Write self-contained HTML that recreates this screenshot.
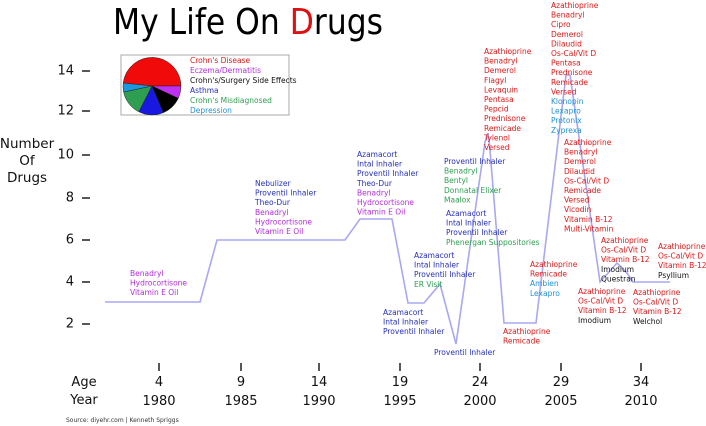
<!DOCTYPE html>
<html><head><meta charset="utf-8"><style>
html,body{margin:0;padding:0;background:#fff}
svg{display:block}
text{font-family:"DejaVu Sans","Liberation Sans",sans-serif}
.s{font-size:7.5px;dominant-baseline:middle}
.R{fill:#e01818}.P{fill:#b02ee0}.B{fill:#2530c0}.G{fill:#2e9e50}.C{fill:#2090d8}.K{fill:#111}
</style></head><body>
<svg width="706" height="426" viewBox="0 0 706 426" xmlns="http://www.w3.org/2000/svg">
<text x="113" y="34" font-size="36" textLength="270" lengthAdjust="spacingAndGlyphs" fill="#000">My Life On <tspan fill="#e01010">D</tspan>rugs</text>
<g font-size="13.5" fill="#111" text-anchor="middle">
<text x="27" y="148">Number</text><text x="27" y="165">Of</text><text x="27" y="182">Drugs</text>
</g>
<g font-size="13" fill="#111" text-anchor="end" style="dominant-baseline:middle">
<text x="74" y="71">14</text><text x="74" y="111">12</text><text x="74" y="155">10</text><text x="74" y="198">8</text><text x="74" y="240">6</text><text x="74" y="282">4</text><text x="74" y="324">2</text>
</g>
<g stroke="#111" stroke-width="1.4">
<line x1="82" x2="90" y1="71" y2="71"/><line x1="82" x2="90" y1="111" y2="111"/><line x1="82" x2="90" y1="155" y2="155"/><line x1="82" x2="90" y1="198" y2="198"/><line x1="82" x2="90" y1="240" y2="240"/><line x1="82" x2="90" y1="282" y2="282"/><line x1="82" x2="90" y1="324" y2="324"/>
<line x1="159" x2="159" y1="363" y2="371"/><line x1="241" x2="241" y1="363" y2="371"/><line x1="319" x2="319" y1="363" y2="371"/><line x1="400" x2="400" y1="363" y2="371"/><line x1="480" x2="480" y1="363" y2="371"/><line x1="561" x2="561" y1="363" y2="371"/><line x1="641" x2="641" y1="363" y2="371"/>
</g>
<g font-size="13" fill="#111" text-anchor="middle">
<text x="84" y="386">Age</text><text x="84" y="404">Year</text>
<text x="159" y="386">4</text><text x="241" y="386">9</text><text x="319" y="386">14</text><text x="400" y="386">19</text><text x="480" y="386">24</text><text x="561" y="386">29</text><text x="641" y="386">34</text>
<text x="159" y="405">1980</text><text x="241" y="405">1985</text><text x="319" y="405">1990</text><text x="400" y="405">1995</text><text x="480" y="405">2000</text><text x="561" y="405">2005</text><text x="641" y="405">2010</text>
</g>
<text x="66" y="422" font-size="6" fill="#333">Source: diyehr.com | Kenneth Spriggs</text>
<rect x="121" y="55" width="168" height="60" fill="#fff" stroke="#aaa" stroke-width="1"/>
<g stroke="#222" stroke-width="0.5">
<path d="M152,86 L123.2,83 A29,29 0 0 1 181,86 Z" fill="#f00a0a"/>
<path d="M152,86 L181,86 A29,29 0 0 1 178.3,98.3 Z" fill="#c030f0"/>
<path d="M152,86 L178.3,98.3 A29,29 0 0 1 163.3,112.7 Z" fill="#000"/>
<path d="M152,86 L163.3,112.7 A29,29 0 0 1 138.8,111.8 Z" fill="#1818e0"/>
<path d="M152,86 L138.8,111.8 A29,29 0 0 1 123.6,92 Z" fill="#2e9e50"/>
<path d="M152,86 L123.6,92 A29,29 0 0 1 123.2,83 Z" fill="#1a98e0"/>
</g>
<text x="190" y="61" class="s R">Crohn's Disease</text>
<text x="190" y="71" class="s P">Eczema/Dermatitis</text>
<text x="190" y="81" class="s K">Crohn's/Surgery Side Effects</text>
<text x="190" y="91" class="s B">Asthma</text>
<text x="190" y="101" class="s G">Crohn's Misdiagnosed</text>
<text x="190" y="111" class="s C">Depression</text>
<polyline fill="none" stroke="#a8a8f4" stroke-width="1.6" points="105,302 200,302 217,240 345,240 360,219 392,219 408,303 424,303 440,284 456,344 485,142 488,133 490,150 504,323 536,323 566,75 570,75 600,282 617,263 627,273 633,282 670,282"/>

<text x="130" y="274" class="s P">Benadryl</text>
<text x="130" y="283.6" class="s P">Hydrocortisone</text>
<text x="130" y="293.2" class="s P">Vitamin E Oil</text>

<text x="255" y="184" class="s B">Nebulizer</text>
<text x="255" y="193.6" class="s B">Proventil Inhaler</text>
<text x="255" y="203.2" class="s B">Theo-Dur</text>
<text x="255" y="212.8" class="s P">Benadryl</text>
<text x="255" y="222.4" class="s P">Hydrocortisone</text>
<text x="255" y="232" class="s P">Vitamin E Oil</text>

<text x="357" y="155" class="s B">Azamacort</text>
<text x="357" y="164.6" class="s B">Intal Inhaler</text>
<text x="357" y="174.2" class="s B">Proventil Inhaler</text>
<text x="357" y="183.8" class="s B">Theo-Dur</text>
<text x="357" y="193.4" class="s P">Benadryl</text>
<text x="357" y="203" class="s P">Hydrocortisone</text>
<text x="357" y="212.6" class="s P">Vitamin E Oil</text>

<text x="383" y="313" class="s B">Azamacort</text>
<text x="383" y="322.6" class="s B">Intal Inhaler</text>
<text x="383" y="332.2" class="s B">Proventil Inhaler</text>

<text x="414" y="256" class="s B">Azamacort</text>
<text x="414" y="265.6" class="s B">Intal Inhaler</text>
<text x="414" y="275.2" class="s B">Proventil Inhaler</text>
<text x="414" y="284.8" class="s G">ER Visit</text>

<text x="434" y="353" class="s B">Proventil Inhaler</text>

<text x="446" y="214" class="s B">Azamacort</text>
<text x="446" y="223.6" class="s B">Intal Inhaler</text>
<text x="446" y="233.2" class="s B">Proventil Inhaler</text>
<text x="446" y="242.8" class="s G">Phenergan Suppositories</text>

<text x="444" y="162" class="s B">Proventil Inhaler</text>
<text x="444" y="171.6" class="s G">Benadryl</text>
<text x="444" y="181.2" class="s G">Bentyl</text>
<text x="444" y="190.8" class="s G">Donnatal Elixer</text>
<text x="444" y="200.4" class="s G">Maalox</text>

<text x="484" y="52" class="s R">Azathioprine</text>
<text x="484" y="61.6" class="s R">Benadryl</text>
<text x="484" y="71.2" class="s R">Demerol</text>
<text x="484" y="80.8" class="s R">Flagyl</text>
<text x="484" y="90.4" class="s R">Levaquin</text>
<text x="484" y="100" class="s R">Pentasa</text>
<text x="484" y="109.6" class="s R">Pepcid</text>
<text x="484" y="119.2" class="s R">Prednisone</text>
<text x="484" y="128.8" class="s R">Remicade</text>
<text x="484" y="138.4" class="s R">Tylenol</text>
<text x="484" y="148" class="s R">Versed</text>

<text x="503" y="332" class="s R">Azathioprine</text>
<text x="503" y="341.6" class="s R">Remicade</text>

<text x="530" y="265" class="s R">Azathioprine</text>
<text x="530" y="274.6" class="s R">Remicade</text>
<text x="530" y="284.2" class="s C">Ambien</text>
<text x="530" y="293.8" class="s C">Lexapro</text>

<text x="551" y="6" class="s R">Azathioprine</text>
<text x="551" y="15.6" class="s R">Benadryl</text>
<text x="551" y="25.2" class="s R">Cipro</text>
<text x="551" y="34.8" class="s R">Demerol</text>
<text x="551" y="44.4" class="s R">Dilaudid</text>
<text x="551" y="54" class="s R">Os-Cal/Vit D</text>
<text x="551" y="63.6" class="s R">Pentasa</text>
<text x="551" y="73.2" class="s R">Prednisone</text>
<text x="551" y="82.8" class="s R">Remicade</text>
<text x="551" y="92.4" class="s R">Versed</text>
<text x="551" y="102" class="s C">Klonopin</text>
<text x="551" y="111.6" class="s C">Lexapro</text>
<text x="551" y="121.2" class="s C">Protonix</text>
<text x="551" y="130.8" class="s C">Zyprexa</text>

<text x="564" y="143" class="s R">Azathioprine</text>
<text x="564" y="152.6" class="s R">Benadryl</text>
<text x="564" y="162.2" class="s R">Demerol</text>
<text x="564" y="171.8" class="s R">Dilaudid</text>
<text x="564" y="181.4" class="s R">Os-Cal/Vit D</text>
<text x="564" y="191" class="s R">Remicade</text>
<text x="564" y="200.6" class="s R">Versed</text>
<text x="564" y="210.2" class="s R">Vicodin</text>
<text x="564" y="219.8" class="s R">Vitamin B-12</text>
<text x="564" y="229.4" class="s R">Multi-Vitamin</text>

<text x="601" y="241" class="s R">Azathioprine</text>
<text x="601" y="250.6" class="s R">Os-Cal/Vit D</text>
<text x="601" y="260.2" class="s R">Vitamin B-12</text>
<text x="601" y="269.8" class="s K">Imodium</text>
<text x="601" y="279.4" class="s K">Questran</text>

<text x="578" y="292" class="s R">Azathioprine</text>
<text x="578" y="301.6" class="s R">Os-Cal/Vit D</text>
<text x="578" y="311.2" class="s R">Vitamin B-12</text>
<text x="578" y="320.8" class="s K">Imodium</text>

<text x="633" y="293" class="s R">Azathioprine</text>
<text x="633" y="302.6" class="s R">Os-Cal/Vit D</text>
<text x="633" y="312.2" class="s R">Vitamin B-12</text>
<text x="633" y="321.8" class="s K">Welchol</text>

<text x="658" y="247" class="s R">Azathioprine</text>
<text x="658" y="256.6" class="s R">Os-Cal/Vit D</text>
<text x="658" y="266.2" class="s R">Vitamin B-12</text>
<text x="658" y="275.8" class="s K">Psyllium</text>
</svg>
</body></html>
